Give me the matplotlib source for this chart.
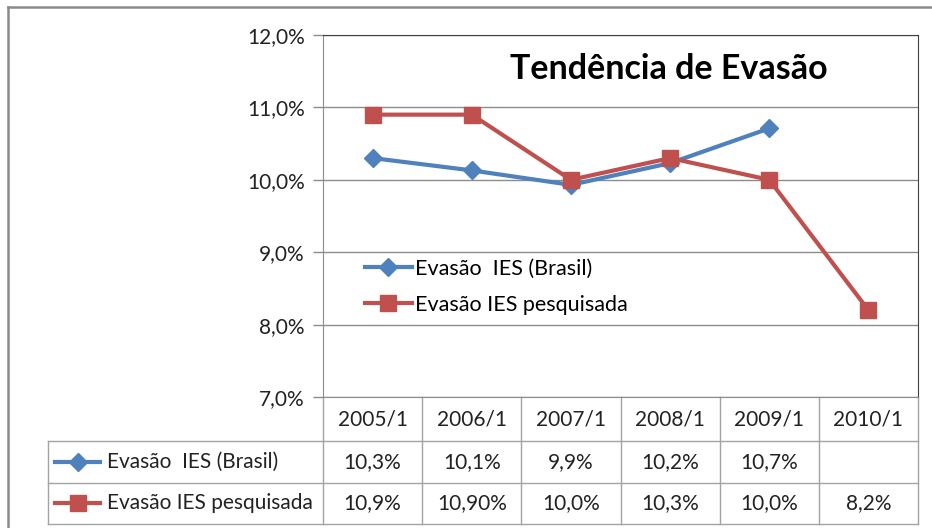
import matplotlib
matplotlib.use("Agg")
import matplotlib.pyplot as plt
from matplotlib.lines import Line2D
from matplotlib.transforms import blended_transform_factory

plt.rcParams['font.family'] = ['Lato', 'DejaVu Sans']

# dados
categorias = ["2005/1", "2006/1", "2007/1", "2008/1", "2009/1", "2010/1"]
brasil = [10.30, 10.13, 9.93, 10.23, 10.71, None]
pesquisada = [10.9, 10.9, 10.0, 10.3, 10.0, 8.2]
brasil_txt = ["10,3%", "10,1%", "9,9%", "10,2%", "10,7%", ""]
pesquisada_txt = ["10,9%", "10,90%", "10,0%", "10,3%", "10,0%", "8,2%"]
yticks = [7, 8, 9, 10, 11, 12]
nome_brasil = "Evasão  IES (Brasil)"
nome_pesq = "Evasão IES pesquisada"

azul = "#4F81BD"
vermelho = "#C0504D"
grade = "#8C8C8C"
linha_tab = "#A3A3A3"
texto = "#222222"

W, H = 932, 528
fig = plt.figure(figsize=(W / 100, H / 100), dpi=100)
ax = fig.add_axes([323 / W, 1 - 397 / H, 595 / W, 362 / H])

x = list(range(len(categorias)))
xb = [i for i, v in zip(x, brasil) if v is not None]
yb = [v for v in brasil if v is not None]
ax.plot(xb, yb, color=azul, lw=3, marker="D", ms=9, label=nome_brasil, zorder=3)
ax.plot(x, pesquisada, color=vermelho, lw=3, marker="s", ms=11, label=nome_pesq, zorder=4)

ax.set_xlim(-0.5, len(categorias) - 0.5)
ax.set_ylim(7, 12)
ax.set_yticks(yticks)
ax.set_yticklabels([f"{v},0%" for v in yticks], fontsize=15, color=texto)
ax.tick_params(axis="y", length=7, width=1, color=grade, pad=6)
ax.set_xticks([])
ax.yaxis.grid(True, color=grade, lw=1)
ax.set_axisbelow(True)
ax.spines["left"].set_color(grade)
ax.spines["bottom"].set_color(grade)
ax.spines["top"].set_color("#404040")
ax.spines["right"].set_color("#404040")

ax.text(0.582, 0.907, "Tendência de Evasão", transform=ax.transAxes, ha="center", va="center",
        fontsize=24.5, fontweight="bold", color="black")

ax.legend(loc="center left", bbox_to_anchor=(0.07, 0.305), frameon=False, fontsize=15.5,
          handlelength=2.2, handletextpad=0.12, labelspacing=0.75, borderpad=0, borderaxespad=0)

# tabela de dados abaixo do eixo
tr = blended_transform_factory(ax.transData, ax.transAxes)
px = 595 / len(categorias)
x_esq = -0.5 - (323 - 48) / px
y_cab = -(441 - 397) / 362
y_l1 = -(482.5 - 397) / 362
y_l2 = -(524 - 397) / 362


def seg(xs, ys):
    ax.add_line(Line2D(xs, ys, transform=tr, color=linha_tab, lw=1, clip_on=False))


for b in [i - 0.5 for i in range(len(categorias) + 1)]:
    seg([b, b], [0, y_l2])
for yy in [y_cab, y_l1, y_l2]:
    seg([x_esq, len(categorias) - 0.5], [yy, yy])
seg([x_esq, x_esq], [y_cab, y_l2])

for i, c in enumerate(categorias):
    ax.text(i, y_cab / 2, c, transform=tr, ha="center", va="center", fontsize=15, color=texto)
    ax.text(i, (y_cab + y_l1) / 2, brasil_txt[i], transform=tr, ha="center", va="center",
            fontsize=15, color=texto)
    ax.text(i, (y_l1 + y_l2) / 2, pesquisada_txt[i], transform=tr, ha="center", va="center",
            fontsize=15, color=texto)

h0 = -0.5 - (323 - 55) / px
h1 = -0.5 - (323 - 100) / px
tx = -0.5 - (323 - 107) / px
for (yy0, yy1), cor, mk, ms, nome in [((y_cab, y_l1), azul, "D", 9, nome_brasil),
                                      ((y_l1, y_l2), vermelho, "s", 11, nome_pesq)]:
    yc = (yy0 + yy1) / 2
    ax.add_line(Line2D([h0, h1], [yc, yc], transform=tr, color=cor, lw=3, clip_on=False))
    ax.add_line(Line2D([(h0 + h1) / 2], [yc], transform=tr, color=cor, marker=mk, ms=ms,
                       clip_on=False))
    ax.text(tx, yc, nome, transform=tr, ha="left", va="center", fontsize=15, color=texto)

# moldura externa do gráfico
fig.add_artist(Line2D([8.3 / W, 8.3 / W], [0, 1 - 6.8 / H], color="#8A8A8A", lw=1.8))
fig.add_artist(Line2D([8.3 / W, 1], [1 - 6.8 / H, 1 - 6.8 / H], color="#8A8A8A", lw=1.8))

fig.savefig("out.png", dpi=100, facecolor="white")
